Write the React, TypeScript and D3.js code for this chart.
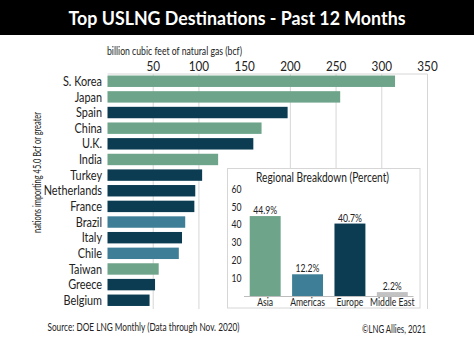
import React from "react";
import * as d3 from "d3";

const countries = ["S. Korea", "Japan", "Spain", "China", "U.K.", "India", "Turkey", "Netherlands", "France", "Brazil", "Italy", "Chile", "Taiwan", "Greece", "Belgium"];
const volumes = [314.5, 254.5, 197, 168.5, 159.5, 121, 103.5, 96, 95, 85, 81.5, 78, 56, 52, 46];
const countryRegions = ["Asia", "Asia", "Europe", "Asia", "Europe", "Asia", "Europe", "Europe", "Europe", "Americas", "Europe", "Americas", "Asia", "Europe", "Europe"];
const xTicks = [50, 100, 150, 200, 250, 300, 350];
const gridValues = [50, 100, 200, 250, 300, 350];

const regions = ["Asia", "Americas", "Europe", "Middle East"];
const regionShares = [44.9, 12.2, 40.7, 2.2];
const insetTicks = [10, 20, 30, 40, 50, 60];

const regionColors: Record<string, string> = {
  Asia: "#6ea48a",
  Americas: "#3e7f97",
  Europe: "#0b3c52",
  "Middle East": "#c2c2c2",
};

const FONT = "Lato, 'Open Sans', sans-serif";

function Narrow(props: { x: number; y: number; sx: number; size: number; anchor?: string; dy?: string; children: React.ReactNode }) {
  const { x, y, sx, size, anchor, dy, children } = props;
  return (
    <text transform={`translate(${x},${y}) scale(${sx},1)`} fontSize={size} fill="#222" textAnchor={anchor || "start"} dy={dy}>
      {children}
    </text>
  );
}

export default function App() {
  const W = 474, H = 355;
  const x = d3.scaleLinear().domain([0, 350]).range([107.5, 427.5]);
  const y = d3.scaleBand<string>().domain(countries).range([73.5, 308]).paddingInner(0.27).paddingOuter(0.13);

  const ix = d3.scaleBand<string>().domain(regions).range([244, 413.5]).paddingInner(0.27).paddingOuter(0.135);
  const iy = d3.scaleLinear().domain([0, 60]).range([296, 189.2]);

  const grid = "#d6d6d6";
  const ink = "#222";
  return (
    <svg width={W} height={H} style={{ position: "absolute", left: 0, top: 0, fontFamily: FONT }}>
      <rect x={0} y={0} width={W} height={H} fill="#fff" />
      <rect x={0} y={0} width={W} height={35} fill="#000" />
      <text x={237} y={25} fill="#fff" fontSize={18.5} fontWeight={700} textAnchor="middle" textLength={337} lengthAdjust="spacingAndGlyphs">
        Top USLNG Destinations - Past 12 Months
      </text>

      <text x={107} y={55} fontSize={11.5} fill={ink} textLength={135} lengthAdjust="spacingAndGlyphs">billion cubic feet of natural gas (bcf)</text>
      {xTicks.map((t) => (
        <Narrow key={t} x={x(t)} y={71} sx={0.9} size={13} anchor="middle">{t}</Narrow>
      ))}

      {gridValues.map((g) => (
        <line key={g} x1={x(g)} x2={x(g)} y1={74} y2={309} stroke={grid} strokeWidth={1} />
      ))}
      <line x1={107.5} x2={427.5} y1={74} y2={74} stroke={grid} strokeWidth={1} />

      {countries.map((c, i) => (
        <g key={c}>
          <rect x={x(0)} y={y(c)!} width={x(volumes[i]) - x(0)} height={y.bandwidth()} fill={regionColors[countryRegions[i]]} />
          <Narrow x={102} y={y(c)! + y.bandwidth() / 2} dy="0.36em" sx={0.85} size={12.8} anchor="end">{c}</Narrow>
        </g>
      ))}

      <text transform="translate(40.5,172.5) rotate(-90)" fontSize={11} fill={ink} textAnchor="middle" textLength={121} lengthAdjust="spacingAndGlyphs">
        nations importing 45.0 Bcf or greater
      </text>

      {/* Inset */}
      <rect x={227.5} y={168.5} width={192.5} height={139.5} fill="#fff" stroke={grid} strokeWidth={1} />
      <text x={322.5} y={181.5} fontSize={12.5} fill={ink} textAnchor="middle" textLength={133} lengthAdjust="spacingAndGlyphs">Regional Breakdown (Percent)</text>
      {insetTicks.map((t) => (
        <Narrow key={t} x={241.5} y={iy(t)} dy="0.35em" sx={0.82} size={10.5} anchor="end">{t}</Narrow>
      ))}
      <line x1={244} x2={413.5} y1={296.5} y2={296.5} stroke="#bdbdbd" strokeWidth={1} />
      {regions.map((r, i) => (
        <g key={r}>
          <rect x={ix(r)!} y={iy(regionShares[i])} width={ix.bandwidth()} height={iy(0) - iy(regionShares[i])} fill={regionColors[r]} />
          <Narrow x={ix(r)! + ix.bandwidth() / 2} y={iy(regionShares[i]) - 2} sx={0.82} size={10.5} anchor="middle">{regionShares[i].toFixed(1)}%</Narrow>
          <Narrow x={ix(r)! + ix.bandwidth() / 2} y={306} sx={0.8} size={10.8} anchor="middle">{r}</Narrow>
        </g>
      ))}

      <text x={47.5} y={331} fontSize={11.5} fill={ink} textLength={192} lengthAdjust="spacingAndGlyphs">Source: DOE LNG Monthly (Data through Nov. 2020)</text>
      <text x={362} y={332.5} fontSize={11.5} fill={ink} textLength={64} lengthAdjust="spacingAndGlyphs">©LNG Allies, 2021</text>
    </svg>
  );
}
